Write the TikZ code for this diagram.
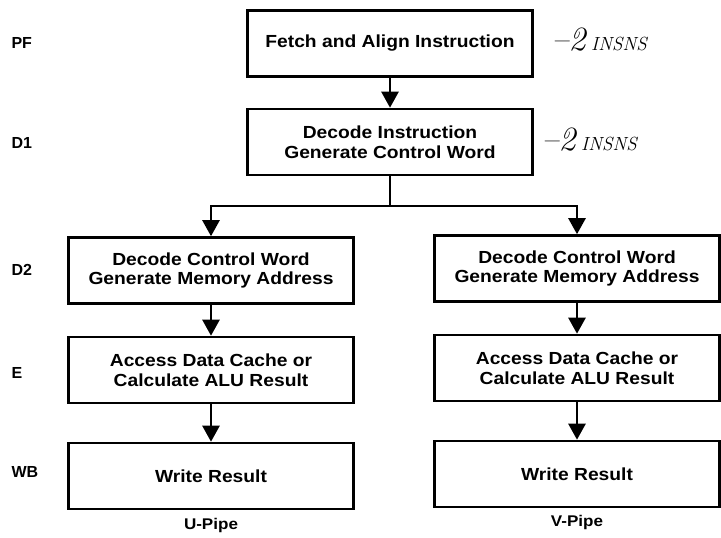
\documentclass[tikz,border=0pt]{standalone}
\usepackage{fontspec}
\setsansfont{Liberation Sans}
\newfontfamily\boxfont{Liberation Sans}[FakeStretch=1.1]
\usepackage{tikz}
\usetikzlibrary{arrows.meta}
\tikzset{
>={Triangle[length=16pt,width=17pt]},
  stagebox/.style={
    rectangle,
    draw=black, line width=2.6pt,
    minimum width=285pt,
    minimum height=66pt,
    align=center,
    font=\boxfont\bfseries\fontsize{17.5}{19.5}\selectfont},
  stagelabel/.style={anchor=west, font=\sffamily\bfseries\fontsize{16}{19}\selectfont},
  pipelabel/.style={font=\boxfont\bfseries\fontsize{15.5}{18}\selectfont},
  flow/.style={draw, line width=2.6pt, ->},
  scrawl/.style={anchor=west, font=\itshape\fontsize{34}{36}\selectfont},
}
\newcommand{\smallscrawl}[1]{{\fontsize{19}{21}\selectfont #1}}
\begin{document}
\begin{tikzpicture}[x=1pt,y=-1pt]
  \useasboundingbox (0,0) rectangle (721,538);
  % in-order front end
  \node[stagebox] (fetch) at (390,43.5) {Fetch and Align Instruction};
  \node[stagebox] (decode) at (390,142) {Decode Instruction\\Generate Control Word};
  \node[scrawl] (notefetch) at (548,40) {--2\,\smallscrawl{INSNS}};
  \node[scrawl] (notedecode) at (538,140) {--2\,\smallscrawl{INSNS}};
  % stage names
  \foreach \s/\y in {PF/43, D1/143, D2/270, E/373, WB/472}{
    \node[stagelabel] (lab\s) at (8,\y) {\s};
  }
  % the two pipes
  \foreach \p/\x/\dy in {u/211/0, v/577/-2}{
    \node[stagebox] (\p dtwo) at (\x,270.5+\dy) {Decode Control Word\\Generate Memory Address};
    \node[stagebox] (\p exe) at (\x,370+\dy) {Access Data Cache or\\Calculate ALU Result};
    \node[stagebox] (\p wb) at (\x,476+\dy) {Write Result};
    \draw[flow] (\p dtwo) -- (\p exe);
    \draw[flow] (\p exe) -- (\p wb);
  }
  \node[pipelabel] (upipe) at (211,525) {U-Pipe};
  \node[pipelabel] (vpipe) at (577,522) {V-Pipe};
  \coordinate (split) at (390,206);
  \draw[flow] (fetch) -- (decode);
  \draw[line width=2.6pt] (decode) -- (split);
  \draw[flow] (split) -| (udtwo);
  \draw[flow] (split) -| (vdtwo);
\end{tikzpicture}
\end{document}
